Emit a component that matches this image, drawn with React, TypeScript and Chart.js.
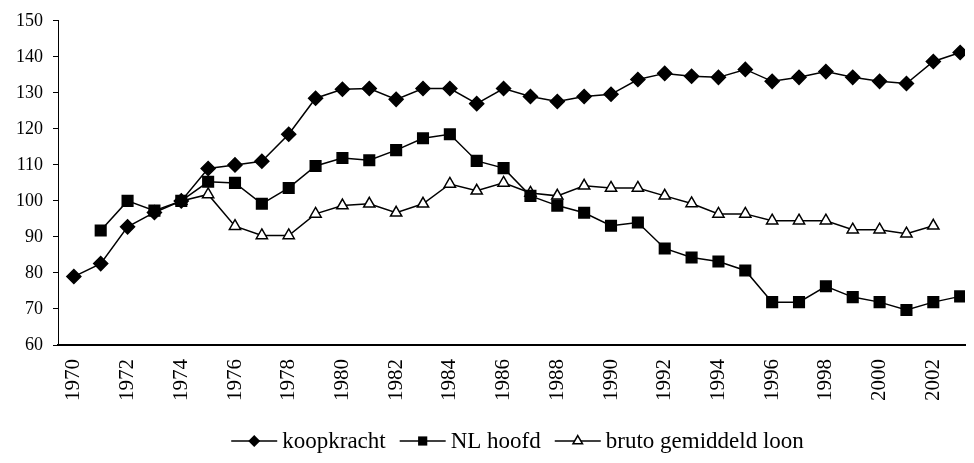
import React, { useEffect, useRef } from 'react';
import { Chart, registerables } from 'chart.js';

Chart.register(...registerables);

const years = [
  1970, 1971, 1972, 1973, 1974, 1975, 1976, 1977, 1978, 1979,
  1980, 1981, 1982, 1983, 1984, 1985, 1986, 1987, 1988, 1989,
  1990, 1991, 1992, 1993, 1994, 1995, 1996, 1997, 1998, 1999,
  2000, 2001, 2002, 2003,
];

const koopkracht = [
  79, 82.6, 92.8, 96.8, 100, 109, 110, 111, 118.5, 128.5,
  131, 131.2, 128.2, 131.2, 131.2, 127, 131.2, 129, 127.6, 129,
  129.6, 133.7, 135.4, 134.6, 134.3, 136.5, 133.2, 134.3, 135.9, 134.3,
  133.2, 132.6, 138.7, 141.2,
];

const nlHoofd = [
  null, 91.8, 100, 97.3, 100, 105.3, 105, 99.2, 103.6, 109.7,
  111.9, 111.3, 114.1, 117.4, 118.5, 111.1, 109.1, 101.4, 98.7, 96.7,
  93.1, 94, 86.8, 84.3, 83.2, 80.7, 71.9, 71.9, 76.3, 73.3,
  71.9, 69.7, 71.9, 73.5,
];

const brutoLoon = [
  null, null, null, null, 100, 101.8, 93, 90.4, 90.4, 96.4,
  98.7, 99.2, 96.7, 99.2, 104.7, 102.8, 105, 102.2, 101.4, 104.2,
  103.6, 103.6, 101.4, 99.3, 96.4, 96.4, 94.5, 94.5, 94.5, 92,
  92, 90.9, 93.1, null,
];

const seriesLabels = ['koopkracht', 'NL hoofd', 'bruto gemiddeld loon'];

const yTicks = { min: 60, max: 150, step: 10 };

const FONT = '"Liberation Serif", "Times New Roman", serif';

function toPoints(values: (number | null)[]) {
  return years
    .map((yr, i) => ({ x: yr, y: values[i] }))
    .filter((p) => p.y !== null) as { x: number; y: number }[];
}

function drawMarker(ctx: CanvasRenderingContext2D, style: string, x: number, y: number, r: number) {
  ctx.beginPath();
  if (style === 'rectRot') {
    ctx.moveTo(x, y - r);
    ctx.lineTo(x + r, y);
    ctx.lineTo(x, y + r);
    ctx.lineTo(x - r, y);
    ctx.closePath();
    ctx.fillStyle = '#000';
    ctx.fill();
  } else if (style === 'rect') {
    const s = r * Math.SQRT1_2;
    ctx.rect(x - s, y - s, 2 * s, 2 * s);
    ctx.fillStyle = '#000';
    ctx.fill();
  } else {
    let rad = 0;
    ctx.moveTo(x + Math.sin(rad) * r, y - Math.cos(rad) * r);
    rad += (2 * Math.PI) / 3;
    ctx.lineTo(x + Math.sin(rad) * r, y - Math.cos(rad) * r);
    rad += (2 * Math.PI) / 3;
    ctx.lineTo(x + Math.sin(rad) * r, y - Math.cos(rad) * r);
    ctx.closePath();
    ctx.fillStyle = '#fff';
    ctx.fill();
    ctx.lineWidth = 1.5;
    ctx.strokeStyle = '#000';
    ctx.stroke();
  }
}

const legendPlugin = {
  id: 'lineMarkerLegend',
  afterDraw(chart: any) {
    const ctx: CanvasRenderingContext2D = chart.ctx;
    ctx.save();
    ctx.font = `23px ${FONT}`;
    const lineW = 46;
    const gapText = 5;
    const gapItem = 14;
    const items = chart.data.datasets.map((ds: any) => ({
      label: ds.label as string,
      style: ds.pointStyle as string,
      r: ds.pointRadius as number,
      w: ctx.measureText(ds.label).width,
    }));
    const total = items.reduce((s: number, it: any) => s + lineW + gapText + it.w, 0) + gapItem * (items.length - 1);
    const center = (chart.chartArea.left + chart.chartArea.right) / 2 + 6;
    let x = center - total / 2;
    const y = 441;
    items.forEach((it: any) => {
      ctx.beginPath();
      ctx.moveTo(x, y);
      ctx.lineTo(x + lineW, y);
      ctx.lineWidth = 1.5;
      ctx.strokeStyle = '#000';
      ctx.stroke();
      drawMarker(ctx, it.style, x + lineW / 2, y, it.r - 1);
      ctx.fillStyle = '#000';
      ctx.textBaseline = 'middle';
      ctx.textAlign = 'left';
      ctx.fillText(it.label, x + lineW + gapText, y + 1);
      x += lineW + gapText + it.w + gapItem;
    });
    ctx.restore();
  },
};

export default function App() {
  const ref = useRef<HTMLCanvasElement | null>(null);

  useEffect(() => {
    document.body.style.margin = '0';
    if (!ref.current) return;
    const common = {
      borderColor: '#000',
      borderWidth: 1.5,
      pointBorderColor: '#000',
      pointBorderWidth: 1.5,
      tension: 0,
      fill: false,
    };
    const chart = new Chart(ref.current, {
      type: 'line',
      data: {
        datasets: [
          {
            ...common,
            label: seriesLabels[0],
            data: toPoints(koopkracht),
            pointStyle: 'rectRot',
            pointRadius: 7,
            pointBackgroundColor: '#000',
          },
          {
            ...common,
            label: seriesLabels[1],
            data: toPoints(nlHoofd),
            pointStyle: 'rect',
            pointRadius: 7.5,
            pointBackgroundColor: '#000',
          },
          {
            ...common,
            label: seriesLabels[2],
            data: toPoints(brutoLoon),
            pointStyle: 'triangle',
            pointRadius: 6.5,
            pointBackgroundColor: '#fff',
          },
        ],
      },
      options: {
        responsive: false,
        animation: false,
        layout: { padding: { top: 10, right: 1, bottom: 48, left: 0 } },
        plugins: {
          legend: { display: false },
          tooltip: { enabled: false },
        },
        scales: {
          x: {
            type: 'linear',
            min: 1969.41,
            max: 2003.18,
            grid: { display: false, drawTicks: false },
            border: { display: true, color: '#000', width: 2 },
            ticks: {
              stepSize: 2,
              includeBounds: false,
              autoSkip: false,
              maxRotation: 90,
              minRotation: 90,
              padding: 14,
              color: '#000',
              font: { family: FONT, size: 21 },
              callback: (v: any) => String(v),
            },
            afterFit: (s: any) => {
              s.height = 70;
            },
          },
          y: {
            min: yTicks.min,
            max: yTicks.max,
            ticks: {
              stepSize: yTicks.step,
              padding: 10,
              color: '#000',
              font: { family: FONT, size: 18 },
            },
            grid: { drawOnChartArea: false, tickLength: 5, color: '#000' },
            border: { color: '#000', width: 1 },
            afterFit: (s: any) => {
              s.width = 58;
            },
          },
        },
      },
      plugins: [legendPlugin],
    } as any);
    return () => chart.destroy();
  }, []);

  return (
    <div style={{ width: 974, height: 463 }}>
      <canvas ref={ref} width={974} height={463} />
    </div>
  );
}
